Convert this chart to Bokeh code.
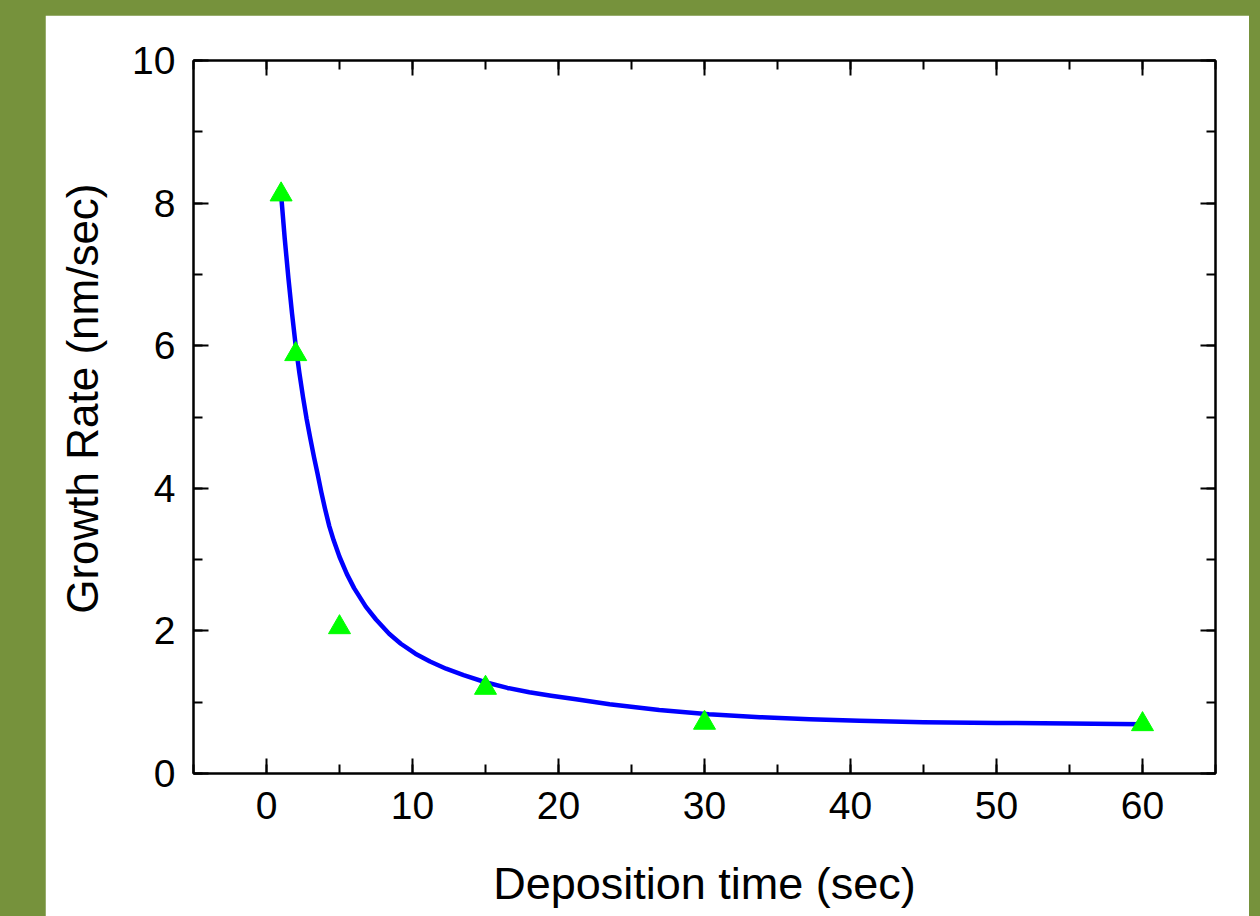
from bokeh.plotting import figure
from bokeh.models import Range1d, LinearAxis, SingleIntervalTicker, ColumnDataSource
from bokeh.layouts import column
from bokeh.embed import file_html
from bokeh.resources import INLINE

# measured data points (green triangles)
dep_time = [1, 2, 5, 15, 30, 60]
growth_rate = [8.12, 5.88, 2.05, 1.20, 0.71, 0.69]

# fitted curve
fit_x = [1, 1.25, 1.5, 1.75, 2, 2.25, 2.5, 2.75, 3, 3.25, 3.5, 3.75, 4, 4.3, 4.6, 5,
         5.5, 6, 6.8, 7.5, 8.4, 9.2, 10.2, 11.2, 12.3, 13.5, 15, 16.5, 18, 19.5,
         21.2, 23.5, 26.9, 30.3, 33.8, 37.2, 40.6, 45, 50, 55, 60]
fit_y = [8.12, 7.5, 6.95, 6.45, 6.0, 5.62, 5.28, 4.97, 4.7, 4.44, 4.2, 3.95, 3.72, 3.47, 3.27, 3.04,
         2.8, 2.6, 2.34, 2.16, 1.96, 1.82, 1.68, 1.57, 1.47, 1.38, 1.28, 1.2, 1.14, 1.09,
         1.04, 0.97, 0.89, 0.83, 0.79, 0.76, 0.74, 0.72, 0.71, 0.70, 0.69]

x_label = "Deposition time (sec)"
y_label = "Growth Rate (nm/sec)"

FONT = "Liberation Sans"
OLIVE = "#76923C"

p = figure(width=1204, height=901, output_backend="svg", toolbar_location=None,
           x_range=Range1d(-5, 65), y_range=Range1d(0, 10),
           min_border_left=148, min_border_right=34, min_border_top=45, min_border_bottom=143,
           background_fill_color="white", border_fill_color="white")
p.margin = (15, 11, 0, 45)
p.grid.visible = False
p.outline_line_color = "black"
p.outline_line_width = 2

p.line(fit_x, fit_y, line_color="#0000FF", line_width=4.5, line_join="round")
src = ColumnDataSource(dict(x=dep_time, y=growth_rate))
p.scatter("x", "y", source=src, marker="triangle", size=22, fill_color="#00FF00", line_color="#00FF00")


def style_axis(ax, show_labels=True):
    ax.axis_line_width = 2
    ax.axis_line_color = "black"
    ax.major_tick_line_width = 2
    ax.minor_tick_line_width = 2
    ax.major_tick_line_color = "black"
    ax.minor_tick_line_color = "black"
    ax.major_tick_in = 15
    ax.major_tick_out = 0
    ax.minor_tick_in = 9
    ax.minor_tick_out = 0
    ax.major_label_text_font = FONT
    if show_labels:
        ax.major_label_text_font_size = "39px"
        ax.major_label_text_color = "black"
    else:
        ax.major_label_text_font_size = "8px"
        ax.major_label_text_color = None
        ax.major_label_standoff = 0


xa = p.xaxis[0]
xa.ticker = SingleIntervalTicker(interval=10, num_minor_ticks=2)
style_axis(xa)
xa.major_label_standoff = 18
xa.axis_label = x_label
xa.axis_label_text_font = FONT
xa.axis_label_text_font_size = "45px"
xa.axis_label_text_font_style = "normal"
xa.axis_label_text_color = "black"
xa.axis_label_standoff = 36

ya = p.yaxis[0]
ya.ticker = SingleIntervalTicker(interval=2, num_minor_ticks=2)
style_axis(ya)
ya.major_label_standoff = 18
ya.axis_label = "\u00a0\u00a0\u00a0" + y_label
ya.axis_label_text_font = FONT
ya.axis_label_text_font_size = "44px"
ya.axis_label_text_font_style = "normal"
ya.axis_label_text_color = "black"
ya.axis_label_standoff = 22

top = LinearAxis(ticker=SingleIntervalTicker(interval=10, num_minor_ticks=2))
style_axis(top, False)
p.add_layout(top, "above")
right = LinearAxis(ticker=SingleIntervalTicker(interval=2, num_minor_ticks=2))
style_axis(right, False)
p.add_layout(right, "right")

lay = column(p, styles={"background-color": OLIVE}, width=1260, height=916)
open("out.html", "w").write(file_html(lay, INLINE))
